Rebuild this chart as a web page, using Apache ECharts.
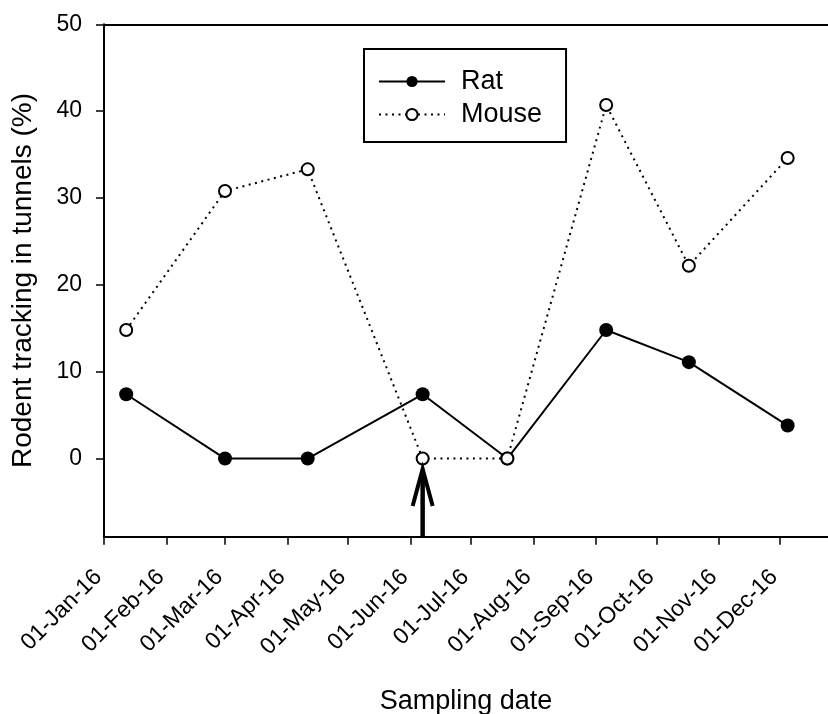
<!DOCTYPE html>
<html>
<head>
<meta charset="utf-8">
<script src="https://cdn.jsdelivr.net/npm/echarts@6/dist/echarts.min.js"></script>
<style>
  html, body { margin: 0; padding: 0; background: #fff; }
  #chart { width: 828px; height: 714px; }
</style>
</head>
<body>
<div id="chart"></div>
<script>
// tick dates on the x axis (first of each month)
const tickDates = ['2016-01-01', '2016-02-01', '2016-03-01', '2016-04-01', '2016-05-01', '2016-06-01',
                   '2016-07-01', '2016-08-01', '2016-09-01', '2016-10-01', '2016-11-01', '2016-12-01'];
const xStart = '2016-01-01';
const xEnd = '2016-12-25';

// sampling dates and tracking rates (%)
const sampleDates = ['2016-01-12', '2016-03-01', '2016-04-11', '2016-06-07',
                     '2016-07-19', '2016-09-06', '2016-10-17', '2016-12-05'];
const ratValues   = [7.4, 0, 0, 7.4, 0, 14.8, 11.1, 3.8];
const mouseValues = [14.8, 30.8, 33.3, 0, 0, 40.7, 22.2, 34.6];

// y axis labels
const yTicks = [0, 10, 20, 30, 40, 50];

// the arrow under the June sample: date, from, to (y)
const arrowDate = '2016-06-07';
const arrowSpan = [-9, -1.2];

const months = ['Jan', 'Feb', 'Mar', 'Apr', 'May', 'Jun', 'Jul', 'Aug', 'Sep', 'Oct', 'Nov', 'Dec'];
const font = 'Liberation Sans';

function toTime(s) {
    const p = s.split('-').map(Number);
    return new Date(p[0], p[1] - 1, p[2]).getTime();
}
function fmtDate(v) {
    const d = new Date(v);
    const dd = String(d.getDate()).padStart(2, '0');
    return dd + '-' + months[d.getMonth()] + '-' + String(d.getFullYear()).slice(2);
}

var chart = echarts.init(document.getElementById('chart'));

const option = {
    backgroundColor: '#fff',
    animation: false,
    grid: { left: 104, right: 0, top: 24.3, bottom: 177.3, containLabel: false, outerBoundsMode: 'none' },
    legend: {
        data: ['Rat', 'Mouse'],
        orient: 'vertical',
        left: 364,
        top: 49,
        itemWidth: 66,
        itemHeight: 14,
        itemGap: 6,
        padding: [19, 24, 14, 14],
        borderColor: '#000',
        borderWidth: 2,
        textStyle: { fontFamily: font, fontSize: 27, color: '#000', lineHeight: 25, padding: [0, 0, 0, 11] }
    },
    xAxis: [{
        // dates kept as timestamps on a plain value scale
        type: 'value',
        min: toTime(xStart),
        max: toTime(xEnd),
        name: 'Sampling date',
        nameLocation: 'middle',
        nameGap: 151,
        nameTextStyle: { fontFamily: font, fontSize: 27, color: '#000' },
        axisLine: { onZero: false, lineStyle: { color: '#000', width: 2 } },
        axisTick: { length: 8, lineStyle: { color: '#000', width: 1.5 }, customValues: tickDates.map(toTime) },
        axisLabel: {
            customValues: tickDates.map(toTime),
            rotate: 45,
            margin: 31,
            padding: [0, 8, 0, 0],
            fontFamily: font,
            fontSize: 23,
            color: '#000',
            formatter: fmtDate
        },
        splitLine: { show: false }
    }, {
        type: 'value',
        position: 'top',
        axisLine: { show: true, onZero: false, lineStyle: { color: '#000', width: 2 } },
        axisTick: { show: false },
        axisLabel: { show: false },
        splitLine: { show: false }
    }],
    yAxis: {
        type: 'value',
        min: -9,
        max: 50,
        name: 'Rodent tracking in tunnels (%)',
        nameLocation: 'middle',
        nameGap: 67,
        nameTextStyle: { fontFamily: font, fontSize: 28, color: '#000' },
        axisLine: { show: true, onZero: false, lineStyle: { color: '#000', width: 2 } },
        axisTick: { show: true, length: 8, lineStyle: { color: '#000', width: 1.5 }, customValues: yTicks },
        axisLabel: { customValues: yTicks, margin: 22, fontFamily: font, fontSize: 23, color: '#000' },
        splitLine: { show: false }
    },
    series: [{
        name: 'Rat',
        type: 'line',
        data: sampleDates.map((d, i) => [toTime(d), ratValues[i]]),
        symbol: 'circle',
        symbolSize: 14,
        itemStyle: { color: '#000' },
        lineStyle: { color: '#000', width: 2 },
        z: 3
    }, {
        name: 'Mouse',
        type: 'line',
        data: sampleDates.map((d, i) => [toTime(d), mouseValues[i]]),
        symbol: 'circle',
        symbolSize: 12,
        itemStyle: { color: '#fff', borderColor: '#000', borderWidth: 2 },
        lineStyle: { color: '#000', width: 2, type: [2, 4.5] },
        z: 4
    }, {
        type: 'custom',
        silent: true,
        data: [[toTime(arrowDate), arrowSpan[0], arrowSpan[1]]],
        encode: { x: 0, y: [1, 2] },
        renderItem: function (params, api) {
            const base = api.coord([api.value(0), api.value(1)]);
            const tip = api.coord([api.value(0), api.value(2)]);
            return {
                type: 'group',
                children: [{
                    type: 'line',
                    shape: { x1: base[0], y1: base[1], x2: tip[0], y2: tip[1] + 3 },
                    style: { stroke: '#000', lineWidth: 4.5 }
                }, {
                    type: 'polyline',
                    shape: { points: [[tip[0] - 10, tip[1] + 37], [tip[0], tip[1]], [tip[0] + 10, tip[1] + 37]] },
                    style: { stroke: '#000', lineWidth: 4, fill: null }
                }]
            };
        },
        z: 5
    }]
};

chart.setOption(option);
</script>
</body>
</html>
